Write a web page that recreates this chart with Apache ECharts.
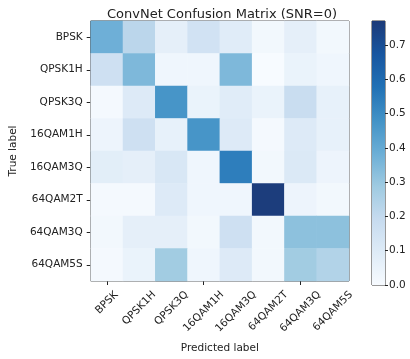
<!DOCTYPE html>
<html>
<head>
<meta charset="utf-8">
<script src="https://cdn.jsdelivr.net/npm/echarts@6/dist/echarts.min.js"></script>
<style>
  html, body { margin: 0; padding: 0; background: #fff; }
  #chart { width: 410px; height: 359px; }
</style>
</head>
<body>
<div id="chart"></div>
<script>
// Class names (shared by both axes)
const classes = ['BPSK', 'QPSK1H', 'QPSK3Q', '16QAM1H', '16QAM3Q', '64QAM2T', '64QAM3Q', '64QAM5S'];

// Row-normalised confusion values, one row per true class (columns = predicted class)
const rowBPSK    = [0.38, 0.22, 0.07, 0.15, 0.09, 0.02, 0.07, 0.02];
const rowQPSK1H  = [0.16, 0.35, 0.03, 0.03, 0.35, 0.00, 0.05, 0.03];
const rowQPSK3Q  = [0.01, 0.10, 0.47, 0.05, 0.09, 0.05, 0.18, 0.06];
const row16QAM1H = [0.04, 0.16, 0.06, 0.47, 0.10, 0.01, 0.10, 0.06];
const row16QAM3Q = [0.08, 0.07, 0.12, 0.03, 0.54, 0.02, 0.11, 0.04];
const row64QAM2T = [0.01, 0.01, 0.10, 0.03, 0.03, 0.76, 0.04, 0.02];
const row64QAM3Q = [0.02, 0.07, 0.07, 0.02, 0.16, 0.02, 0.32, 0.32];
const row64QAM5S = [0.01, 0.05, 0.28, 0.03, 0.10, 0.02, 0.28, 0.24];
const rows = [rowBPSK, rowQPSK1H, rowQPSK3Q, row16QAM1H, row16QAM3Q, row64QAM2T, row64QAM3Q, row64QAM5S];

// Colour bar range and ticks
const vmax = 0.77;
const colorbarTicks = [0.0, 0.1, 0.2, 0.3, 0.4, 0.5, 0.6, 0.7];

// Blues-style colour ramp, light to dark
const blues = ['#f7fbff', '#deebf7', '#c6dbef', '#9ecae1', '#6baed6', '#4292c6', '#2171b5', '#1856a0', '#1c3a78'];

const cells = [];
rows.forEach((r, yi) => r.forEach((v, xi) => cells.push([xi, yi, v])));

const font = 'DejaVu Sans';
const tickFont = 10.5;
const ink = '#222';

// Predicted-class labels: rotated 45° with each rotated box centred under its tick
const ctx = document.createElement('canvas').getContext('2d');
ctx.font = tickFont + 'px "' + font + '"';
const labelWidths = classes.map(n => ctx.measureText(n).width);
const bottomRow = classes.length - 1;
const xLabelAnchors = classes.map((n, i) => [i, bottomRow]);

function renderXLabel(params, api) {
  const i = params.dataIndex;
  const p = api.coord([api.value(0), api.value(1)]);
  const cell = api.size([1, 1]);
  const axisY = p[1] + cell[1] / 2;
  const h = tickFont * 1.1;
  const halfBox = (labelWidths[i] + h) * Math.SQRT1_2 / 2;
  return {
    type: 'text',
    x: p[0],
    y: axisY + 8 + halfBox,
    rotation: Math.PI / 4,
    style: {
      text: classes[i], align: 'center', verticalAlign: 'middle',
      fontFamily: font, fontSize: tickFont, fill: ink
    }
  };
}

const chart = echarts.init(document.getElementById('chart'), null, { renderer: 'canvas' });

chart.setOption({
  backgroundColor: '#fff',
  animation: false,
  textStyle: { fontFamily: font, color: ink },
  title: {
    text: 'ConvNet Confusion Matrix (SNR=0)',
    left: 217, top: 3, textAlign: 'center',
    textStyle: { fontFamily: font, fontSize: 13, fontWeight: 'normal', color: ink }
  },
  grid: [
    { left: 85, top: 21, width: 264, height: 264, show: true, borderColor: '#333', borderWidth: 1, backgroundColor: 'transparent' },
    { left: 372, top: 21, width: 13, height: 264, show: true, borderColor: '#333', borderWidth: 1, backgroundColor: 'transparent' }
  ],
  xAxis: [
    {
      gridIndex: 0, type: 'category', data: classes,
      name: 'Predicted label', nameLocation: 'middle', nameGap: 62,
      nameTextStyle: { fontFamily: font, fontSize: 10.5, color: ink },
      axisLine: { show: false },
      axisTick: { show: true, alignWithLabel: true, length: 4, lineStyle: { color: ink } },
      axisLabel: { show: false },
      splitLine: { show: false }
    },
    {
      gridIndex: 1, type: 'category', data: [''],
      axisLine: { show: false }, axisTick: { show: false }, axisLabel: { show: false }
    }
  ],
  yAxis: [
    {
      gridIndex: 0, type: 'category', data: classes, inverse: true,
      name: 'True label', nameLocation: 'middle', nameGap: 71,
      nameTextStyle: { fontFamily: font, fontSize: 10.5, color: ink },
      axisLine: { show: false },
      axisTick: { show: true, alignWithLabel: true, length: 4, lineStyle: { color: ink } },
      axisLabel: { fontFamily: font, fontSize: tickFont, color: ink, margin: 8, interval: 0 },
      splitLine: { show: false }
    },
    {
      gridIndex: 1, type: 'value', position: 'right', min: 0, max: vmax, interval: 0.1,
      axisLine: { show: false },
      axisTick: { show: true, length: 3, lineStyle: { color: ink } },
      axisLabel: {
        fontFamily: font, fontSize: tickFont, color: ink, margin: 4,
        showMaxLabel: false,
        formatter: v => colorbarTicks.some(t => Math.abs(t - v) < 1e-6) ? v.toFixed(1) : ''
      },
      splitLine: { show: false }
    }
  ],
  visualMap: {
    show: false, type: 'continuous', min: 0, max: vmax, seriesIndex: 0,
    inRange: { color: blues }
  },
  series: [
    {
      type: 'heatmap', xAxisIndex: 0, yAxisIndex: 0, data: cells,
      itemStyle: { borderWidth: 0 }, emphasis: { disabled: true }
    },
    {
      // colour bar drawn as a single gradient bar spanning 0..vmax
      type: 'bar', xAxisIndex: 1, yAxisIndex: 1, data: [vmax], barWidth: '100%',
      silent: true,
      itemStyle: {
        color: new echarts.graphic.LinearGradient(0, 1, 0, 0,
          blues.map((c, i) => ({ offset: i / (blues.length - 1), color: c })))
      }
    },
    {
      // rotated tick labels for the predicted-class axis
      type: 'custom', xAxisIndex: 0, yAxisIndex: 0, data: xLabelAnchors,
      renderItem: renderXLabel, clip: false, silent: true, z: 5
    }
  ]
});
</script>
</body>
</html>
